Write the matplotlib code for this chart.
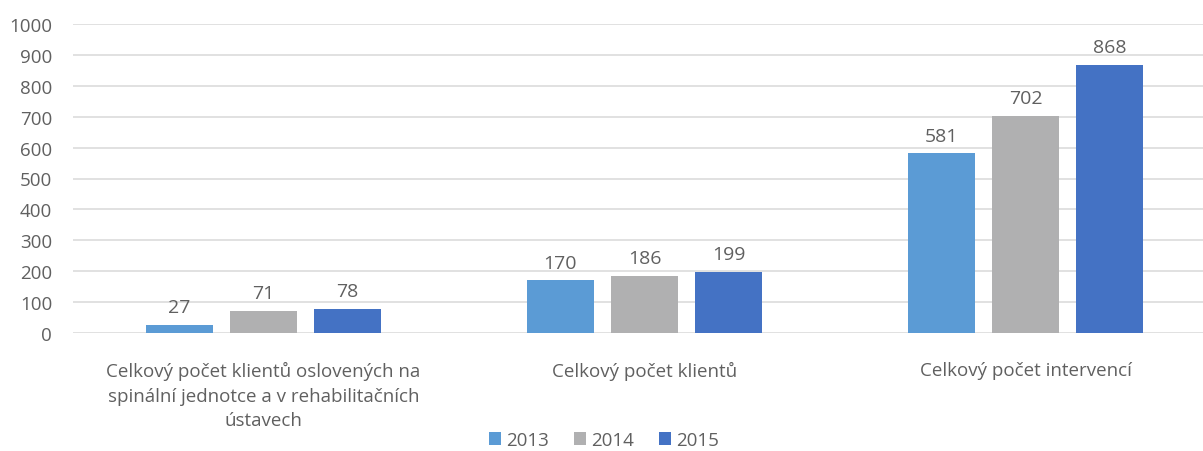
import numpy as np
import matplotlib.pyplot as plt

# ---------------- DATA ----------------
categories = [
    "Celkový počet klientů oslovených na\nspinální jednotce a v rehabilitačních\nústavech",
    "Celkový počet klientů",
    "Celkový počet intervencí",
]
years = ["2013", "2014", "2015"]
values_2013 = [27, 170, 581]
values_2014 = [71, 186, 702]
values_2015 = [78, 199, 868]
colors = ["#5B9BD5", "#B0B0B1", "#4472C4"]
# --------------------------------------

plt.rcParams['font.family'] = ['Open Sans', 'DejaVu Sans']
TXT = "#606060"
FS = 13.5

W, H = 1203, 452
fig = plt.figure(figsize=(W / 100, H / 100), dpi=100)
# plot area in pixels: x 73..1216, y(0)=334, y(1000)=25
left, right, bottom, top = 73, 1216, 334, 25
ax = fig.add_axes([left / W, 1 - bottom / H, (right - left) / W, (bottom - top) / H])

x = np.arange(len(categories))
width = 0.176
step = 0.221
series = [values_2013, values_2014, values_2015]
for i, (vals, yr, c) in enumerate(zip(series, years, colors)):
    bars = ax.bar(x + (i - 1) * step, vals, width, color=c, label=yr, zorder=3)
    for b, v in zip(bars, vals):
        ax.text(b.get_x() + b.get_width() / 2, v + 28, str(v), ha="center", va="bottom",
                fontsize=FS + 0.5, color=TXT)

ax.set_xlim(-0.5, len(categories) - 0.5)
ax.set_ylim(0, 1000)
ax.set_yticks(np.arange(0, 1001, 100))
ax.yaxis.grid(True, color="#DCDCDC", linewidth=1.2, zorder=0)
ax.tick_params(axis="y", length=0, labelsize=FS, labelcolor=TXT, pad=15)
ax.tick_params(axis="x", length=0, labelsize=FS, labelcolor=TXT, pad=20)
ax.set_xticks(x)
ax.set_xticklabels(categories, linespacing=1.48)
for s in ax.spines.values():
    s.set_visible(False)

leg = ax.legend(loc="center", bbox_to_anchor=(604 / W, 1 - 441 / H),
                bbox_transform=fig.transFigure, ncol=3, frameon=False,
                fontsize=FS, handlelength=0.65, handleheight=0.65,
                handletextpad=0.3, columnspacing=1.3)
for t in leg.get_texts():
    t.set_color(TXT)

fig.savefig("out.png", dpi=100)
